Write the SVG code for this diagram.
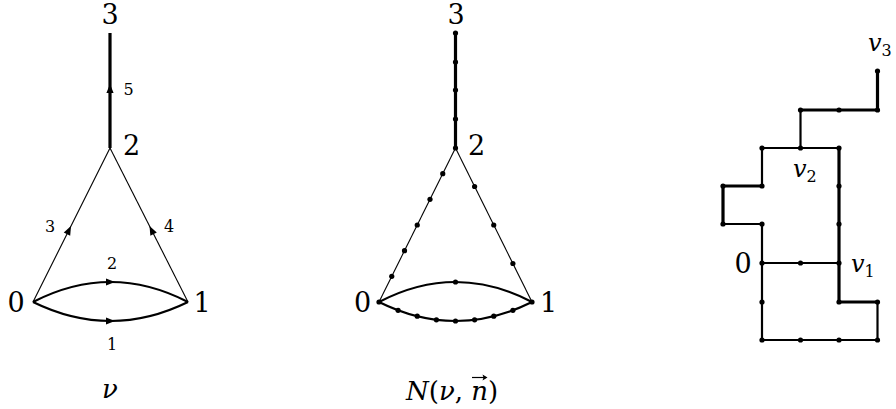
<svg xmlns="http://www.w3.org/2000/svg" width="896" height="409" viewBox="0 0 896 409">
<style>
.big{font-family:"DejaVu Serif","Liberation Serif",serif;font-size:27px;fill:#000}
.sm{font-family:"DejaVu Serif","Liberation Serif",serif;font-size:16px;fill:#000}
.it{font-family:"DejaVu Serif","Liberation Serif",serif;font-style:italic;fill:#000}
.thin{stroke:#000;stroke-width:1.1;fill:none}
.med{stroke:#000;stroke-width:2.2;fill:none}
.thick{stroke:#000;stroke-width:3.2;fill:none}
</style>
<defs>
<path id="ah" d="M0,0 L-9,-3.6 L-9,3.6 Z" fill="#000"/>
<circle id="d" r="2.6" fill="#000"/>
</defs>
<rect width="896" height="409" fill="#fff"/>

<!-- Left graph nu -->
<g id="graph-nu">
<g id="nu-edges">
<line class="thick" x1="110" y1="33" x2="110" y2="148"/>
<line class="thin" x1="33" y1="302" x2="110" y2="148"/>
<line class="thin" x1="188" y1="302" x2="110" y2="148"/>
<path class="med" d="M33,302 Q110.5,262 188,302"/>
<path class="med" d="M33,302 Q110.5,340 188,302"/>
<use href="#ah" transform="translate(110,84) rotate(-90)"/>
<use href="#ah" transform="translate(71,226) rotate(-63.4)"/>
<use href="#ah" transform="translate(149.5,226) rotate(-116.9)"/>
<use href="#ah" transform="translate(115,282)"/>
<use href="#ah" transform="translate(115,321)"/>
</g>
<g id="nu-v3"><text class="big" x="110" y="24" text-anchor="middle">3</text></g>
<g id="nu-v2"><text class="big" x="131.5" y="155" text-anchor="middle">2</text></g>
<g id="nu-v0"><text class="big" x="16" y="312" text-anchor="middle">0</text></g>
<g id="nu-v1"><text class="big" x="202" y="312" text-anchor="middle">1</text></g>
<g id="nu-labels">
<text class="sm" x="128.5" y="95" text-anchor="middle">5</text>
<text class="sm" x="50" y="232" text-anchor="middle">3</text>
<text class="sm" x="169" y="232" text-anchor="middle">4</text>
<text class="sm" x="112" y="269" text-anchor="middle">2</text>
<text class="sm" x="112" y="350" text-anchor="middle">1</text>
</g>
<text class="it" font-size="26" x="110" y="398" text-anchor="middle">ν</text>
</g>

<!-- Middle graph N(nu,n) -->
<g id="graph-N">
<g id="N-edges">
<line class="thick" x1="455.5" y1="33" x2="455.5" y2="148"/>
<line class="thin" x1="379" y1="302" x2="455.5" y2="148"/>
<line class="thin" x1="532" y1="302" x2="455.5" y2="148"/>
<path class="med" d="M379,302 Q455.5,262 532,302"/>
<path class="med" d="M379,302 Q455.5,340 532,302"/>
</g>
<g id="N-dots">
<use href="#d" x="455.5" y="33"/><use href="#d" x="455.5" y="62"/><use href="#d" x="455.5" y="90"/><use href="#d" x="455.5" y="119"/><use href="#d" x="455.5" y="148"/>
<use href="#d" x="442.75" y="173.7"/><use href="#d" x="430" y="199.3"/><use href="#d" x="417.25" y="225"/><use href="#d" x="404.5" y="250.7"/><use href="#d" x="391.75" y="276.3"/>
<use href="#d" x="474.6" y="186.5"/><use href="#d" x="493.75" y="225"/><use href="#d" x="512.9" y="263.5"/>
<use href="#d" x="379" y="302"/><use href="#d" x="532" y="302"/>
<use href="#d" x="455.5" y="282"/>
<use href="#d" x="398.1" y="310.3"/><use href="#d" x="417.25" y="316.2"/><use href="#d" x="436.4" y="319.8"/><use href="#d" x="455.5" y="321"/><use href="#d" x="474.6" y="319.8"/><use href="#d" x="493.75" y="316.2"/><use href="#d" x="512.9" y="310.3"/>
</g>
<g id="N-v3"><text class="big" x="456" y="24" text-anchor="middle">3</text></g>
<g id="N-v2"><text class="big" x="476.5" y="155" text-anchor="middle">2</text></g>
<g id="N-v0"><text class="big" x="362.5" y="312" text-anchor="middle">0</text></g>
<g id="N-v1"><text class="big" x="548.5" y="312" text-anchor="middle">1</text></g>
<text class="it" font-size="26" x="406" y="400">N<tspan font-style="normal">(</tspan>ν<tspan font-style="normal">, </tspan>n<tspan font-style="normal">)</tspan></text>
<path d="M472,377.5 H486" stroke="#000" stroke-width="1.2" fill="none"/>
<path d="M487.5,377.5 L482.5,374.5 L483.5,377.5 L482.5,380.5 Z" fill="#000"/>
</g>

<!-- Right lattice path -->
<g id="graph-path">
<g id="path-edges">
<polyline class="thick" points="877.5,71 877.5,110 800.5,110"/>
<line class="med" x1="800.5" y1="110" x2="800.5" y2="148"/>
<line class="med" x1="762" y1="148" x2="839" y2="148"/>
<line class="thick" x1="839" y1="148" x2="839" y2="302"/>
<line class="med" x1="762" y1="148" x2="762" y2="186"/>
<polyline class="thick" points="762,186 723,186 723,224"/>
<line class="med" x1="723" y1="224" x2="762" y2="224"/>
<line class="med" x1="762" y1="224" x2="762" y2="340"/>
<line class="med" x1="762" y1="263" x2="839" y2="263"/>
<line class="thick" x1="839" y1="302" x2="877.5" y2="302"/>
<line class="med" x1="877.5" y1="302" x2="877.5" y2="340"/>
<line class="med" x1="762" y1="340" x2="877.5" y2="340"/>
</g>
<g id="path-dots">
<use href="#d" x="877.5" y="71"/><use href="#d" x="877.5" y="110"/><use href="#d" x="839" y="110"/><use href="#d" x="800.5" y="110"/>
<use href="#d" x="762" y="148"/><use href="#d" x="800.5" y="148"/><use href="#d" x="839" y="148"/>
<use href="#d" x="723" y="186"/><use href="#d" x="762" y="186"/><use href="#d" x="839" y="186"/>
<use href="#d" x="723" y="224"/><use href="#d" x="762" y="224"/><use href="#d" x="839" y="224"/>
<use href="#d" x="762" y="263"/><use href="#d" x="800.5" y="263"/><use href="#d" x="839" y="263"/>
<use href="#d" x="762" y="302"/><use href="#d" x="839" y="302"/><use href="#d" x="877.5" y="302"/>
<use href="#d" x="762" y="340"/><use href="#d" x="800.5" y="340"/><use href="#d" x="839" y="340"/><use href="#d" x="877.5" y="340"/>
</g>
<g id="path-v3"><text class="it" font-size="24" x="868" y="51">v<tspan font-style="normal" font-size="16" dy="5">3</tspan></text></g>
<g id="path-v2"><text class="it" font-size="24" x="793" y="177">v<tspan font-style="normal" font-size="16" dy="5">2</tspan></text></g>
<g id="path-v0"><text class="big" x="743" y="273" text-anchor="middle">0</text></g>
<g id="path-v1"><text class="it" font-size="24" x="851" y="272">v<tspan font-style="normal" font-size="16" dy="5">1</tspan></text></g>
</g>
</svg>
